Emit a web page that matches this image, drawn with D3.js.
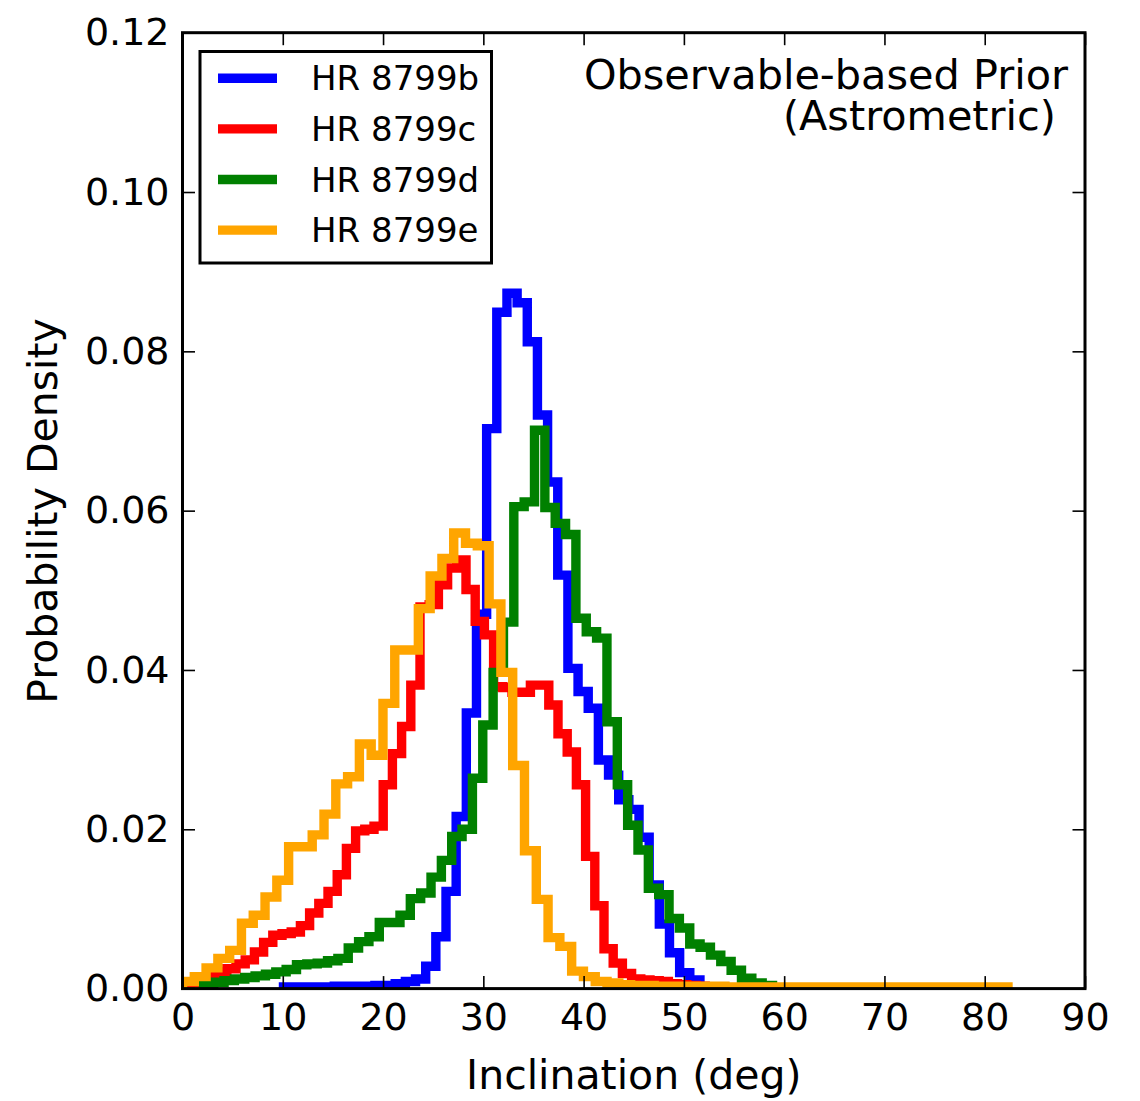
<!DOCTYPE html>
<html>
<head>
<meta charset="utf-8">
<script src="https://cdn.jsdelivr.net/npm/d3@7"></script>
<style>
  body { margin: 0; background: #fff; }
  svg { display: block; font-family: "DejaVu Sans", sans-serif; }
</style>
</head>
<body>
<div class="chart"></div>
<script>
// planets, colours and histogram bins (degrees)
const planets = ['HR 8799b', 'HR 8799c', 'HR 8799d', 'HR 8799e']
const colors = ['#0000ff', '#ff0000', '#008000', '#ffa500']
const binStart = [10.07, 0.75, 2.08, 0.0]
const binWidth = [1.013, 0.9174, 1.032, 1.176]

// probability density per bin
const densB = [0.0002, 0.0002, 0.0002, 0.0002, 0.0002, 0.0003, 0.0003, 0.0003, 0.0003, 0.0004,
  0.0004, 0.0006, 0.0009, 0.0012, 0.0028, 0.0065, 0.0122, 0.0216, 0.0346, 0.0470,
  0.0703, 0.0849, 0.0873, 0.0861, 0.0812, 0.0720, 0.0636, 0.0519, 0.0402, 0.0373,
  0.0352, 0.0287, 0.0268, 0.0237, 0.0225, 0.0190, 0.0130, 0.0081, 0.0045, 0.0020, 0.0011]

const densC = [0.0007, 0.0012, 0.0016, 0.0021, 0.0025, 0.0031, 0.0036, 0.0046, 0.0058, 0.0067,
  0.0069, 0.0071, 0.0079, 0.0095, 0.0107, 0.0122, 0.0143, 0.0176, 0.0198, 0.0200,
  0.0204, 0.0256, 0.0295, 0.0329, 0.0381, 0.0479, 0.0482, 0.0507, 0.0528, 0.0538,
  0.0501, 0.0461, 0.0444, 0.0379, 0.0378, 0.0372, 0.0372, 0.0381, 0.0381, 0.0356,
  0.0320, 0.0297, 0.0256, 0.0166, 0.0104, 0.0050, 0.0032, 0.0019, 0.0012, 0.0011,
  0.0010, 0.0009, 0.0006, 0.0005, 0.0004, 0.0003, 0.0002]

const densD = [0.0005, 0.0008, 0.0010, 0.0012, 0.0014, 0.0016, 0.0018, 0.0021, 0.0024, 0.0030,
  0.0031, 0.0032, 0.0035, 0.0038, 0.0051, 0.0059, 0.0065, 0.0083, 0.0083, 0.0092,
  0.0113, 0.0120, 0.0140, 0.0161, 0.0191, 0.0200, 0.0264, 0.0331, 0.0397, 0.0460,
  0.0605, 0.0611, 0.0701, 0.0604, 0.0584, 0.0570, 0.0465, 0.0448, 0.0440, 0.0335,
  0.0256, 0.0205, 0.0174, 0.0126, 0.0118, 0.0088, 0.0076, 0.0056, 0.0052, 0.0042,
  0.0034, 0.0023, 0.0013, 0.0007, 0.0004]

const densE = [0.0009, 0.0015, 0.0026, 0.0038, 0.0048, 0.0082, 0.0092, 0.0115, 0.0136, 0.0178,
  0.0178, 0.0193, 0.0219, 0.0257, 0.0266, 0.0307, 0.0293, 0.0358, 0.0425, 0.0425,
  0.0477, 0.0518, 0.0540, 0.0572, 0.0559, 0.0556, 0.0483, 0.0397, 0.0280, 0.0173,
  0.0112, 0.0064, 0.0053, 0.0022, 0.0015, 0.0009, 0.0007, 0.0005, 0.0004, 0.0004,
  0.0003, 0.0003, 0.0003, 0.0003, 0.0003, 0.0003, 0.0002, 0.0002, 0.0002, 0.0002,
  0.0002, 0.0002, 0.0002, 0.0002, 0.0002, 0.0002, 0.0002, 0.0002, 0.0002, 0.0002,
  0.0002, 0.0002, 0.0002, 0.0002, 0.0002, 0.0002, 0.0002, 0.0002, 0.0002, 0.0002]

const xTicks = [0, 10, 20, 30, 40, 50, 60, 70, 80, 90]
const yTicks = [0, 0.02, 0.04, 0.06, 0.08, 0.10, 0.12]

const dens = [densB, densC, densD, densE]

const width = 1140, height = 1101
const plot = {left: 182.5, right: 1085, top: 32.7, bottom: 988.6}

const x = d3.scaleLinear().domain([0, 90]).range([plot.left, plot.right])
const y = d3.scaleLinear().domain([0, 0.12]).range([plot.bottom, plot.top])

const svg = d3.select('.chart').append('svg')
    .attr('width', width)
    .attr('height', height)

svg.append('defs').append('clipPath')
    .attr('id', 'clip')
    .append('rect')
    .attr('x', plot.left)
    .attr('y', plot.top)
    .attr('width', plot.right - plot.left)
    .attr('height', plot.bottom - plot.top)

// step outline, like histtype='step'
const line = d3.line()
    .x(d => x(d[0]))
    .y(d => y(d[1]))
    .curve(d3.curveStepAfter)

const steps = (vals, s, w) => {
    const pts = [[s, 0]]
    vals.forEach((v, i) => pts.push([s + i * w, v]))
    pts.push([s + vals.length * w, 0])
    return pts
}

svg.append('g')
    .attr('clip-path', 'url(#clip)')
    .selectAll('.hist')
    .data(dens)
    .enter()
    .append('path')
    .attr('class', 'hist')
    .attr('d', (d, i) => line(steps(d, binStart[i], binWidth[i])))
    .attr('fill', 'none')
    .attr('stroke', (d, i) => colors[i])
    .attr('stroke-width', 9.4)
    .attr('stroke-linejoin', 'miter')

// axes: ticks point inward on all four sides
const tick = 12.5
const styleAxis = g => {
    g.select('.domain').remove()
    g.selectAll('.tick line').attr('stroke', '#000').attr('stroke-width', 1.6)
    g.selectAll('.tick text').attr('font-size', 38).attr('fill', '#000')
        .attr('font-family', '"DejaVu Sans", sans-serif')
}

svg.append('g')
    .attr('transform', `translate(0,${plot.bottom})`)
    .call(d3.axisBottom(x).tickValues(xTicks).tickSize(-tick).tickPadding(14).tickFormat(d3.format('d')))
    .call(styleAxis)

svg.append('g')
    .attr('transform', `translate(0,${plot.top})`)
    .call(d3.axisTop(x).tickValues(xTicks).tickSize(-tick).tickFormat(''))
    .call(styleAxis)

svg.append('g')
    .attr('transform', `translate(${plot.left},0)`)
    .call(d3.axisLeft(y).tickValues(yTicks).tickSize(-tick).tickPadding(13).tickFormat(d3.format('.2f')))
    .call(styleAxis)

svg.append('g')
    .attr('transform', `translate(${plot.right},0)`)
    .call(d3.axisRight(y).tickValues(yTicks).tickSize(-tick).tickFormat(''))
    .call(styleAxis)

svg.append('rect')
    .attr('x', plot.left)
    .attr('y', plot.top)
    .attr('width', plot.right - plot.left)
    .attr('height', plot.bottom - plot.top)
    .attr('fill', 'none')
    .attr('stroke', '#000')
    .attr('stroke-width', 3)

// axis titles
svg.append('text')
    .text('Inclination (deg)')
    .attr('x', (plot.left + plot.right) / 2)
    .attr('y', 1089)
    .attr('font-size', 41)
    .attr('text-anchor', 'middle')

svg.append('text')
    .text('Probability Density')
    .attr('transform', 'translate(57,511) rotate(-90)')
    .attr('font-size', 41)
    .attr('text-anchor', 'middle')

// annotation, two right-aligned lines
svg.append('text')
    .text('Observable-based Prior')
    .attr('x', 1068)
    .attr('y', 89)
    .attr('font-size', 41.4)
    .attr('text-anchor', 'end')

svg.append('text')
    .text('(Astrometric)')
    .attr('x', 1056)
    .attr('y', 130)
    .attr('font-size', 41.4)
    .attr('text-anchor', 'end')

// legend
const legend = svg.append('g')

legend.append('rect')
    .attr('x', 200)
    .attr('y', 51.5)
    .attr('width', 291.5)
    .attr('height', 211.5)
    .attr('fill', '#fff')
    .attr('stroke', '#000')
    .attr('stroke-width', 3)

const rows = legend.selectAll('.row')
    .data(planets)
    .enter()
    .append('g')
    .attr('class', 'row')
    .attr('transform', (d, i) => `translate(0,${78.3 + i * 50.6})`)

rows.append('line')
    .attr('x1', 218)
    .attr('x2', 277)
    .attr('stroke', (d, i) => colors[i])
    .attr('stroke-width', 9.4)

rows.append('text')
    .text(d => d)
    .attr('x', 311)
    .attr('y', 12)
    .attr('font-size', 34)
</script>
</body>
</html>
